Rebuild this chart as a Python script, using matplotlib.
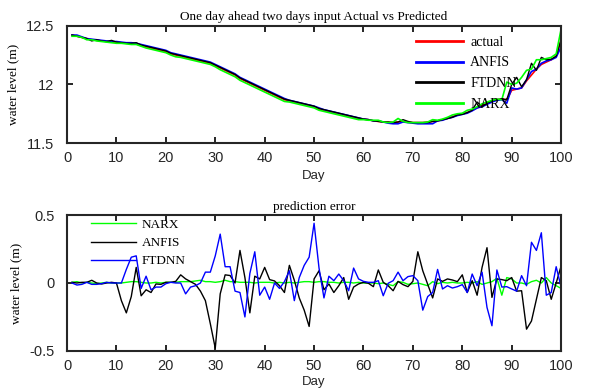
import matplotlib
matplotlib.use("Agg")
import matplotlib.pyplot as plt
import numpy as np

days = list(range(1, 101))

actual = [12.42, 12.41, 12.40, 12.39, 12.38, 12.375, 12.37, 12.365, 12.36, 12.36,
          12.355, 12.35, 12.35, 12.345, 12.33, 12.32, 12.31, 12.30, 12.29, 12.28,
          12.26, 12.25, 12.24, 12.23, 12.22, 12.21, 12.20, 12.19, 12.18, 12.16,
          12.14, 12.12, 12.10, 12.08, 12.05, 12.03, 12.01, 11.99, 11.97, 11.95,
          11.93, 11.91, 11.89, 11.87, 11.86, 11.85, 11.84, 11.83, 11.82, 11.81,
          11.79, 11.78, 11.77, 11.76, 11.75, 11.74, 11.73, 11.72, 11.71, 11.705,
          11.70, 11.69, 11.685, 11.68, 11.68, 11.675, 11.68, 11.685, 11.68, 11.675,
          11.675, 11.675, 11.68, 11.685, 11.69, 11.70, 11.71, 11.725, 11.74, 11.75,
          11.76, 11.78, 11.80, 11.82, 11.84, 11.86, 11.87, 11.875, 11.87, 11.95,
          11.96, 11.97, 12.03, 12.08, 12.13, 12.17, 12.19, 12.21, 12.24, 12.38]

anfis_pred = [12.42, 12.42, 12.405, 12.39, 12.385, 12.38, 12.375, 12.37, 12.365, 12.365,
              12.36, 12.355, 12.355, 12.35, 12.34, 12.33, 12.32, 12.31, 12.30, 12.29,
              12.27, 12.26, 12.25, 12.24, 12.23, 12.22, 12.21, 12.20, 12.19, 12.17,
              12.15, 12.13, 12.11, 12.09, 12.06, 12.04, 12.02, 12.00, 11.98, 11.96,
              11.94, 11.92, 11.90, 11.88, 11.865, 11.855, 11.845, 11.835, 11.825, 11.815,
              11.80, 11.785, 11.775, 11.765, 11.755, 11.745, 11.735, 11.725, 11.715, 11.705,
              11.70, 11.69, 11.69, 11.68, 11.67, 11.665, 11.665, 11.68, 11.675, 11.67,
              11.665, 11.665, 11.665, 11.665, 11.69, 11.695, 11.71, 11.72, 11.735, 11.745,
              11.755, 11.775, 11.80, 11.81, 11.83, 11.85, 11.865, 11.87, 11.84, 11.97,
              11.96, 11.97, 12.04, 12.11, 12.13, 12.18, 12.20, 12.21, 12.23, 12.32]

ftdnn_pred = [12.42, 12.41, 12.40, 12.39, 12.37, 12.38, 12.37, 12.365, 12.375, 12.36,
              12.355, 12.35, 12.35, 12.355, 12.335, 12.325, 12.315, 12.305, 12.295, 12.285,
              12.265, 12.255, 12.245, 12.235, 12.225, 12.215, 12.205, 12.195, 12.185, 12.165,
              12.145, 12.125, 12.105, 12.085, 12.055, 12.035, 12.015, 11.995, 11.975, 11.955,
              11.935, 11.915, 11.895, 11.875, 11.865, 11.855, 11.845, 11.835, 11.825, 11.815,
              11.795, 11.785, 11.775, 11.765, 11.755, 11.745, 11.735, 11.725, 11.715, 11.705,
              11.70, 11.69, 11.685, 11.68, 11.68, 11.675, 11.68, 11.70, 11.685, 11.675,
              11.675, 11.675, 11.675, 11.685, 11.69, 11.70, 11.71, 11.72, 11.74, 11.745,
              11.76, 11.78, 11.85, 11.81, 11.84, 11.86, 11.87, 11.875, 11.87, 12.00,
              12.06, 11.98, 12.04, 12.18, 12.12, 12.23, 12.21, 12.215, 12.24, 12.38]

narx_pred = [12.41, 12.41, 12.40, 12.38, 12.38, 12.37, 12.365, 12.36, 12.355, 12.35,
             12.35, 12.345, 12.34, 12.34, 12.325, 12.31, 12.30, 12.29, 12.28, 12.27,
             12.25, 12.235, 12.23, 12.22, 12.21, 12.20, 12.19, 12.18, 12.17, 12.15,
             12.125, 12.105, 12.085, 12.065, 12.035, 12.015, 11.995, 11.975, 11.955, 11.935,
             11.915, 11.895, 11.875, 11.855, 11.85, 11.84, 11.83, 11.82, 11.81, 11.80,
             11.78, 11.77, 11.76, 11.75, 11.74, 11.73, 11.72, 11.71, 11.70, 11.70,
             11.695, 11.695, 11.695, 11.68, 11.675, 11.68, 11.71, 11.685, 11.675, 11.675,
             11.675, 11.675, 11.68, 11.70, 11.695, 11.705, 11.72, 11.74, 11.75, 11.755,
             11.78, 11.79, 11.81, 11.835, 11.85, 11.865, 11.875, 11.87, 12.02, 12.00,
             12.01, 12.06, 12.12, 12.13, 12.21, 12.21, 12.22, 12.23, 12.26, 12.47]

narx_err = [0.005, 0.01, 0.0, 0.005, 0.0, -0.005, 0.0, 0.005, 0.0, 0.0,
            0.0, 0.005, 0.01, 0.01, 0.005, 0.0, 0.0, 0.005, 0.0, 0.005,
            0.005, 0.005, 0.01, 0.01, 0.01, 0.015, 0.02, 0.01, 0.01, 0.005,
            0.01, 0.02, 0.01, 0.01, 0.005, 0.005, 0.005, 0.0, 0.005, 0.005,
            0.005, 0.0, 0.005, 0.0, 0.005, 0.0, 0.005, 0.01, 0.01, 0.005,
            0.01, 0.01, 0.005, 0.005, 0.0, 0.005, 0.005, 0.0, 0.005, 0.0,
            0.0, 0.0, -0.005, 0.0, -0.01, -0.02, 0.01, 0.005, -0.01, -0.005,
            0.0, -0.01, -0.02, 0.01, -0.005, 0.005, 0.0, 0.005, 0.0, 0.0,
            0.005, 0.0, 0.01, -0.01, 0.0, 0.01, 0.035, -0.09, 0.04, 0.03,
            0.0, 0.0, -0.01, 0.01, 0.02, 0.0, 0.04, 0.0, -0.02, -0.04]

anfis_err = [0.005, 0.0, 0.005, 0.005, 0.02, 0.0, -0.007, 0.0, 0.005, 0.0,
             -0.13, -0.22, -0.1, 0.115, -0.094, -0.05, -0.07, -0.007, -0.01, 0.005,
             0.005, 0.012, 0.06, 0.03, 0.01, -0.01, -0.06, -0.13, -0.3, -0.48,
             -0.08, 0.06, 0.055, 0.0, 0.24, 0.04, -0.22, 0.05, 0.03, 0.115,
             0.025, 0.015, -0.02, -0.07, 0.13, 0.02, -0.11, -0.2, -0.32, 0.03,
             0.09, -0.05, -0.007, -0.07, -0.02, 0.04, -0.12, -0.03, -0.007, 0.005,
             -0.002, -0.027, 0.096, 0.005, -0.02, -0.057, 0.012, -0.012, -0.027, 0.012,
             0.23, 0.09, -0.01, -0.11, 0.03, 0.012, 0.03, 0.022, 0.01, 0.06,
             -0.07, 0.017, -0.09, 0.115, 0.26, -0.106, 0.03, 0.025, 0.017, 0.04,
             -0.06, -0.057, -0.34, -0.28, -0.12, 0.04, 0.017, -0.12, 0.0, 0.125]

ftdnn_err = [0.0, -0.015, -0.01, 0.005, -0.01, -0.01, -0.005, 0.005, 0.0, 0.0,
             0.0, 0.1, 0.19, 0.2, -0.04, 0.05, -0.05, -0.03, -0.03, -0.005,
             0.005, 0.0, 0.0, -0.08, -0.03, -0.02, 0.0, 0.08, 0.08, 0.2,
             0.36, 0.12, 0.12, -0.06, -0.07, -0.25, 0.07, 0.23, -0.09, -0.03,
             -0.12, 0.0, -0.04, 0.01, 0.09, -0.13, 0.04, 0.13, 0.19, 0.44,
             0.11, -0.11, 0.05, 0.017, 0.066, 0.017, -0.057, 0.11, 0.03, 0.012,
             0.005, 0.005, 0.017, -0.094, -0.002, 0.017, 0.08, 0.017, 0.047, 0.054,
             0.017, -0.2, -0.1, -0.07, 0.1, -0.044, -0.02, -0.037, -0.027, -0.012,
             -0.07, 0.066, -0.02, 0.08, -0.18, -0.315, 0.096, -0.03, -0.027, -0.044,
             -0.06, 0.054, -0.02, 0.3, 0.24, 0.37, -0.09, -0.07, 0.12, -0.03]

xticks = [0, 10, 20, 30, 40, 50, 60, 70, 80, 90, 100]
top_yticks = [11.5, 12.0, 12.5]
top_yticklabels = ["11.5", "12", "12.5"]
bot_yticks = [-0.5, 0.0, 0.5]
bot_yticklabels = ["-0.5", "0", "0.5"]

serif = ["Liberation Serif", "DejaVu Serif"]
sans = ["Liberation Sans", "DejaVu Sans"]

fig = plt.figure(figsize=(6.04, 3.89), dpi=100)
ax1 = fig.add_axes([0.111, 0.632, 0.818, 0.302])
ax2 = fig.add_axes([0.111, 0.098, 0.818, 0.349])

def style(ax):
    ax.set_xlim(0, 100)
    ax.set_xticks(xticks)
    ax.tick_params(direction="in", top=True, right=True, length=4, width=1.2,
                   labelsize=10.5)
    ax.tick_params(axis="x", pad=6)
    ax.tick_params(axis="y", pad=9)
    for lab in ax.get_xticklabels() + ax.get_yticklabels():
        lab.set_family(sans)
        lab.set_color("#262626")
    for s in ax.spines.values():
        s.set_linewidth(1.5)
        s.set_color("#262626")

ax1.plot(days, actual, color="#ff0000", lw=1.2, label="actual")
ax1.plot(days, anfis_pred, color="#0000ff", lw=1.2, label="ANFIS")
ax1.plot(days, ftdnn_pred, color="#000000", lw=1.0, label="FTDNN")
ax1.plot(days, narx_pred, color="#00ff00", lw=1.2, label="NARX")
ax1.set_ylim(11.5, 12.5)
ax1.set_yticks(top_yticks)
ax1.set_yticklabels(top_yticklabels)
style(ax1)
ax1.set_title("One day ahead two days input Actual vs Predicted", family=serif,
              fontsize=9.5, pad=4)
ax1.set_ylabel("water level (m)", family=serif, fontsize=9.5, labelpad=5)
ax1.set_xlabel("Day", family=sans, fontsize=9.5, labelpad=3, color="#262626")
leg1 = ax1.legend(loc="upper right", frameon=False, prop={"family": serif, "size": 10},
                  handlelength=3.4, handletextpad=0.5, labelspacing=0.55,
                  bbox_to_anchor=(0.935, 1.02))
for l in leg1.get_lines():
    l.set_linewidth(2.0)

ax2.plot(days, narx_err, color="#00ff00", lw=1.0, label="NARX")
ax2.plot(days, anfis_err, color="#000000", lw=1.0, label="ANFIS")
ax2.plot(days, ftdnn_err, color="#0000ff", lw=1.0, label="FTDNN")
ax2.set_ylim(-0.5, 0.5)
ax2.set_yticks(bot_yticks)
ax2.set_yticklabels(bot_yticklabels)
style(ax2)
ax2.set_title("prediction error", family=serif, fontsize=9.5, pad=4)
ax2.set_ylabel("water level (m)", family=serif, fontsize=9.5, labelpad=5)
ax2.set_xlabel("Day", family=sans, fontsize=9.5, labelpad=2, color="#262626")
leg2 = ax2.legend(loc="upper left", frameon=False, prop={"family": serif, "size": 9.5},
                  handlelength=3.4, handletextpad=0.4, labelspacing=0.45,
                  bbox_to_anchor=(0.025, 1.06))

fig.savefig("out.png", dpi=100)
